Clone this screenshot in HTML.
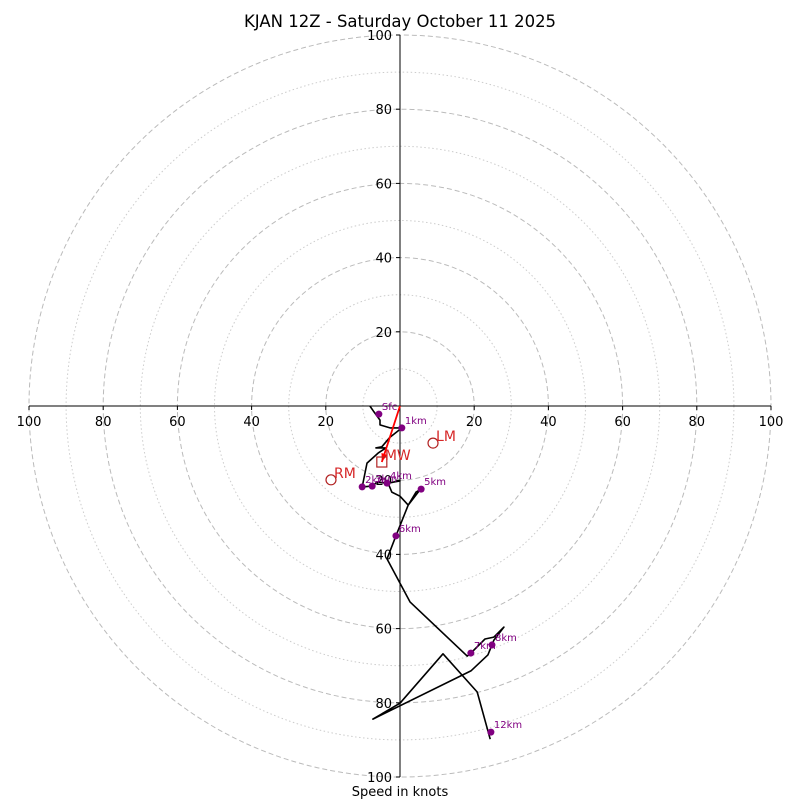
<!DOCTYPE html>
<html><head><meta charset="utf-8"><style>
body{margin:0;background:#fff;}
svg{display:block;font-family:"DejaVu Sans","Liberation Sans",sans-serif;}
</style></head><body>
<svg id="chart" width="800" height="800" viewBox="0 0 800 800">
<text x="400" y="27" text-anchor="middle" font-size="16.5">KJAN 12Z - Saturday October 11 2025</text>
<text x="400" y="796" text-anchor="middle" font-size="13">Speed in knots</text>
<g id="grid"></g><g id="axes"></g><g id="trace"></g><g id="marks"></g>
</svg>
<script>
const ringsMajor=[20,40,60,80,100];
const ringsMinor=[10,30,50,70,90];
const tickLabels=[20,40,60,80,100];
const traceU=[-8.1,-7.0,-5.4,-5.4,-2.7,0.5,-2.7,-4.9,-6.5,-3.8,-5.9,-8.9,-10.2,-7.5,-6.2,-3.5,0,-3.2,-2.2,0,2.2,5.4,4.3,2.2,-1.1,-3.5,2.7,18.1,19.1,22.9,25.3,28.0,25.3,23.7,19.1,-7.3,0,11.6,20.8,24.3];
const traceV=[0,-1.6,-3.8,-5.1,-5.9,-5.9,-8.4,-11.0,-11.3,-11.3,-12.7,-15.4,-21.8,-21.6,-20.5,-20.8,-20.2,-20.8,-23.2,-24.3,-26.7,-22.6,-23.2,-26.7,-35.0,-41.2,-52.8,-67.4,-66.6,-62.8,-62.3,-59.6,-63.1,-67.1,-71.4,-84.4,-80.1,-66.8,-77.1,-89.8];
const levelLabels=["Sfc","1km","2km","3km","4km","5km","6km","7km","8km","12km"];
const levelU=[-5.7,0.5,-10.2,-7.5,-3.5,5.7,-1.1,19.1,24.8,24.5];
const levelV=[-2.2,-5.9,-21.8,-21.6,-20.8,-22.4,-35.0,-66.6,-64.4,-87.9];
const motionNames=["RM","LM","MW"];
const motionU=[-18.6,8.9,-4.9];
const motionV=[-19.9,-10.0,-15.1];

const CX=400,CY=406,S=3.71,NS="http://www.w3.org/2000/svg";
const px=u=>CX+u*S, py=v=>CY-v*S;
function mk(tag,attrs,parent,txt){const e=document.createElementNS(NS,tag);for(const k in attrs)e.setAttribute(k,attrs[k]);if(txt!==undefined)e.textContent=txt;document.getElementById(parent).appendChild(e);return e;}
ringsMinor.forEach(r=>{const c=mk('circle',{cx:CX,cy:CY,r:r*S,fill:'none',stroke:'#cccccc','stroke-dasharray':'1.5,2.5','stroke-width':1},'grid');

});
ringsMajor.forEach(r=>{const c=mk('circle',{cx:CX,cy:CY,r:r*S,fill:'none',stroke:'#bbbbbb','stroke-dasharray':'5,3','stroke-width':1},'grid');

});
let l=mk('line',{x1:px(-100),y1:CY,x2:px(100),y2:CY,stroke:'#000'},'axes');


l=mk('line',{x1:CX,y1:py(100),x2:CX,y2:py(-100),stroke:'#000'},'axes');


tickLabels.forEach(t=>{[-1,1].forEach(sg=>{
 const x=px(sg*t);
 mk('line',{x1:x,y1:CY,x2:x,y2:CY+4,stroke:'#000'},'axes');
 const tx=mk('text',{x:x,y:CY+20,'text-anchor':'middle','font-size':13},'axes',t);
 
 
 const y=py(sg*t);
 mk('line',{x1:CX-4,y1:y,x2:CX,y2:y,stroke:'#000'},'axes');
 const ty=mk('text',{x:CX-8,y:y+5,'text-anchor':'end','font-size':13},'axes',t);
 
 
});});
const pts=traceU.map((u,i)=>px(u).toFixed(1)+','+py(traceV[i]).toFixed(1)).join(' ');
const pl=mk('polyline',{points:pts,fill:'none',stroke:'#000','stroke-width':1.6,'stroke-linejoin':'round'},'trace');


levelLabels.forEach((lab,i)=>{const x=px(levelU[i]),y=py(levelV[i]);
 const c=mk('circle',{cx:x,cy:y,r:3.5,fill:'purple'},'marks');
 
 
 const t=mk('text',{x:x+3,y:y-4,'font-size':10,fill:'purple'},'marks',lab);
 
 
});
const ax=px(motionU[2]),ay=py(motionV[2]);
const ar=mk('line',{x1:CX,y1:CY,x2:ax,y2:ay,stroke:'red','stroke-width':1.8},'marks');


const ang=Math.atan2(ay-CY,ax-CX),h=9;
const hp=mk('polygon',{points:`${ax},${ay} ${ax-h*Math.cos(ang-0.35)},${ay-h*Math.sin(ang-0.35)} ${ax-h*Math.cos(ang+0.35)},${ay-h*Math.sin(ang+0.35)}`,fill:'red'},'marks');


motionNames.forEach((n,i)=>{const x=px(motionU[i]),y=py(motionV[i]);let m;
 if(n==='MW'){m=mk('rect',{x:x-5,y:y-5,width:10,height:10,fill:'none',stroke:'#b22222','stroke-width':1.2},'marks');}
 else{m=mk('circle',{cx:x,cy:y,r:5,fill:'none',stroke:'#b22222','stroke-width':1.2},'marks');}
 
 
 const t=mk('text',{x:x+3,y:y-2,'font-size':14,fill:'#d62728'},'marks',n);
 
 
});
</script>
</body></html>
